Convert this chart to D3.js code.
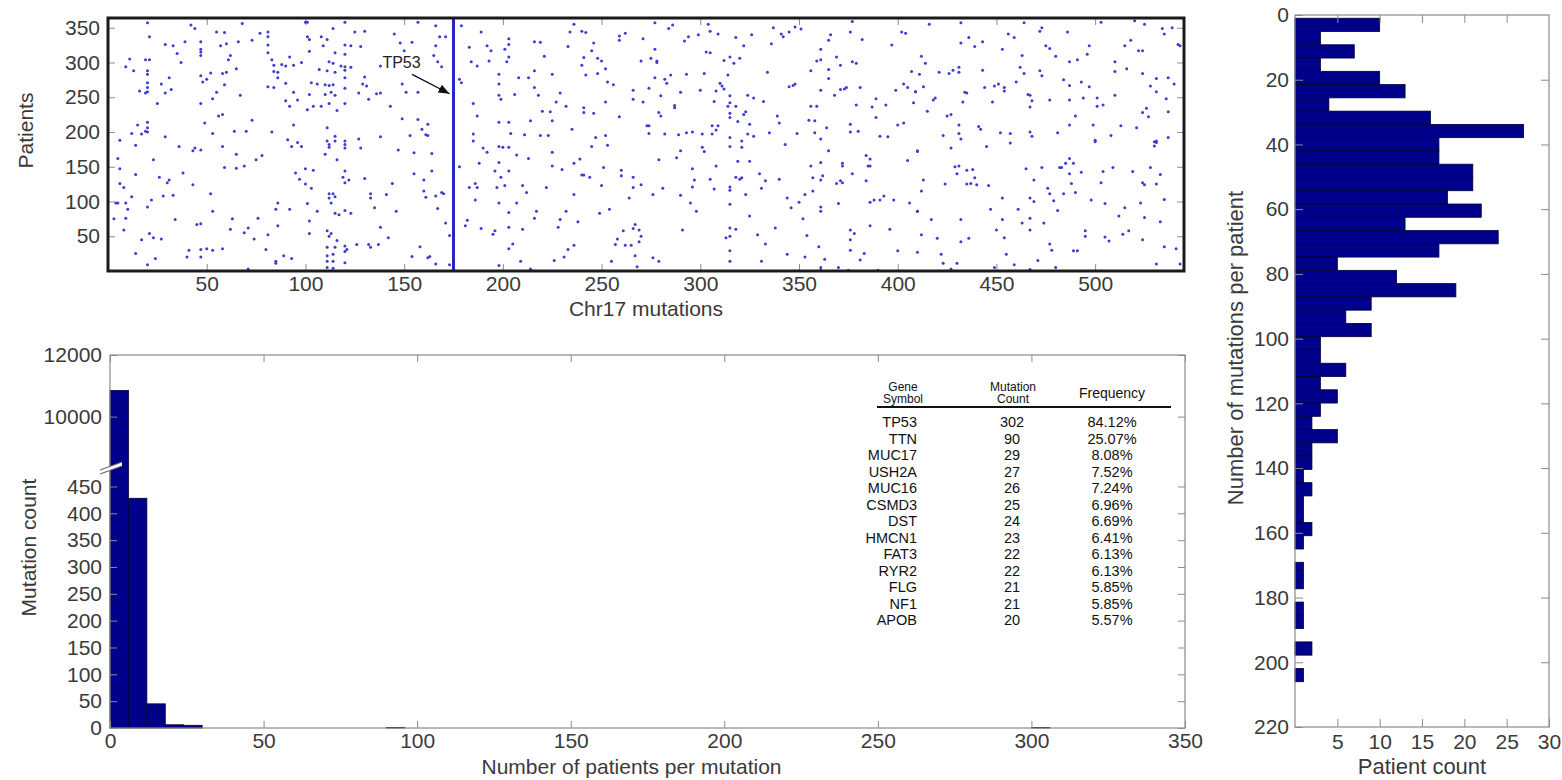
<!DOCTYPE html>
<html><head><meta charset="utf-8">
<script src="https://cdn.jsdelivr.net/npm/d3@7"></script>
<style>
body{margin:0;background:#fff;}
svg{display:block;}
</style></head><body>
<svg id="chart" width="1562" height="780"></svg>
<script>
// ---------------- DATA ----------------
// Top panel: [Chr17 mutation index, patient index]
const mutationDots = [
[20,357],[42,354],[44,349],[68,356],[100,358],[101,358],[120,358],[55,344],[59,343],[77,342],[81,344],[125,344],[130,345],[114,349],[21,337],[81,337],[101,337],[102,333],[108,337],[111,333],[29,326],[33,324],[39,330],[47,330],[57,324],[60,327],[66,330],[73,332],[81,325],[109,324],[120,325],[123,324],[128,323],[47,319],[47,315],[47,310],[35,313],[62,310],[81,314],[102,316],[115,314],[120,312],[11,305],[19,304],[21,304],[61,304],[83,304],[92,308],[98,300],[112,301],[114,299],[118,295],[120,294],[9,294],[37,300],[84,296],[88,297],[90,295],[94,296],[107,290],[111,288],[115,286],[120,289],[123,293],[13,288],[20,288],[20,283],[52,285],[58,284],[60,286],[65,291],[84,287],[86,286],[31,278],[47,281],[50,276],[48,272],[86,278],[120,278],[130,279],[27,269],[20,271],[20,264],[20,258],[16,259],[19,256],[29,256],[32,261],[59,268],[81,265],[84,264],[90,270],[103,271],[106,269],[110,268],[112,267],[114,268],[120,263],[129,269],[131,266],[55,257],[53,248],[67,253],[94,257],[96,246],[102,254],[110,254],[113,257],[115,253],[127,256],[132,247],[25,241],[47,241],[90,245],[92,237],[101,232],[104,237],[108,237],[112,241],[116,231],[120,241],[56,223],[58,225],[49,213],[73,217],[94,210],[15,210],[20,214],[20,206],[19,201],[20,200],[12,198],[17,197],[29,193],[53,198],[64,201],[70,201],[83,200],[111,206],[115,194],[6,188],[14,181],[91,189],[96,185],[111,187],[115,187],[120,187],[120,182],[127,190],
[36,179],[43,173],[44,177],[47,174],[58,179],[93,179],[98,179],[112,182],[112,178],[120,177],[128,177],[5,162],[23,160],[65,168],[78,166],[75,160],[110,168],[116,160],[6,147],[59,149],[65,148],[69,151],[100,147],[104,145],[95,141],[120,144],[14,139],[26,135],[38,141],[97,132],[100,125],[119,135],[122,131],[120,127],[130,133],[6,126],[8,120],[30,127],[31,131],[43,124],[103,119],[12,107],[28,108],[33,109],[22,102],[52,111],[112,111],[114,111],[112,105],[115,107],[113,98],[133,111],[133,105],[4,98],[5,98],[9,98],[20,92],[10,89],[86,98],[85,89],[92,89],[101,97],[106,86],[115,83],[117,81],[120,87],[123,83],[135,91],[3,75],[9,76],[34,74],[45,67],[47,68],[53,86],[63,75],[76,76],[102,72],[62,60],[71,62],[86,65],[69,55],[8,59],[21,54],[23,48],[27,46],[17,45],[74,46],[81,52],[102,54],[111,58],[113,54],[112,50],[116,44],[120,36],[121,31],[120,28],[126,38],[132,38],[133,34],[111,34],[115,34],[41,30],[47,31],[50,32],[53,30],[58,32],[80,31],[14,25],[40,20],[47,20],[24,18],[20,9],[85,14],[85,11],[89,22],[93,18],[111,22],[114,24],[111,14],[114,14],[111,5],[114,4],[120,12],[71,3],
[157,358],[166,353],[179,353],[145,341],[168,337],[171,337],[189,344],[148,328],[154,329],[166,324],[203,334],[203,326],[216,330],[219,329],[233,323],[234,344],[240,345],[242,343],[236,355],[246,328],[259,338],[259,332],[262,342],[271,334],[183,322],[192,324],[194,317],[201,319],[150,317],[165,310],[167,301],[169,294],[221,309],[203,308],[202,301],[184,301],[187,295],[193,302],[241,307],[240,296],[248,306],[250,302],[252,291],[245,317],[270,302],[138,295],[198,283],[208,278],[213,278],[216,288],[225,283],[242,282],[248,284],[253,272],[256,268],[178,276],[179,271],[149,269],[151,257],[157,257],[138,256],[136,255],[198,269],[216,264],[206,254],[198,253],[199,247],[218,253],[227,243],[229,256],[232,237],[241,235],[241,228],[246,227],[252,243],[266,260],[266,247],[271,243],[143,237],[185,241],[187,223],[220,230],[224,229],[259,222],[149,219],[157,218],[162,211],[159,204],[161,196],[162,195],[198,214],[203,214],[214,216],[225,216],[235,204],[274,209],[138,193],[153,195],[185,197],[185,187],[204,198],[211,196],[219,195],[223,195],[247,192],[252,195],[253,181],
[190,177],[192,171],[198,179],[200,178],[203,178],[207,167],[213,162],[225,171],[245,179],[147,174],[155,170],[164,169],[178,150],[188,155],[198,156],[196,144],[203,144],[225,151],[230,146],[236,155],[239,161],[240,138],[241,138],[244,135],[251,149],[260,145],[260,137],[266,135],[155,140],[164,144],[199,135],[160,131],[144,126],[186,126],[187,120],[183,120],[197,120],[201,123],[210,123],[222,120],[250,123],[270,124],[266,120],[141,110],[160,115],[161,106],[166,108],[169,113],[170,111],[212,113],[236,110],[264,105],[186,102],[198,98],[207,98],[167,90],[146,86],[203,84],[217,86],[216,76],[232,86],[249,83],[254,89],[182,73],[181,65],[189,61],[171,69],[195,53],[196,58],[203,63],[210,60],[228,63],[229,74],[238,71],[261,58],[266,61],[267,67],[269,59],[270,50],[269,42],[138,63],[142,48],[137,38],[173,51],[205,39],[203,32],[233,31],[236,37],[258,46],[257,38],[262,37],[265,37],[158,35],[154,21],[162,19],[163,21],[166,10],[173,9],[198,8],[209,14],[214,3],[226,15],[231,20],[255,14],[267,22],[268,6],
[277,357],[284,349],[286,354],[304,355],[305,345],[309,341],[299,340],[294,337],[292,331],[318,336],[326,340],[322,324],[337,350],[336,327],[341,341],[342,337],[345,344],[348,351],[351,348],[366,340],[365,332],[376,344],[377,359],[382,333],[397,325],[402,344],[404,342],[277,319],[361,319],[303,315],[305,314],[275,306],[278,302],[278,300],[312,303],[315,308],[317,299],[320,306],[359,302],[361,304],[369,308],[371,296],[377,301],[379,299],[334,286],[302,284],[293,283],[285,282],[356,288],[365,290],[365,277],[407,287],[277,278],[282,276],[283,270],[314,282],[274,263],[280,252],[290,257],[300,260],[308,259],[310,270],[311,266],[312,262],[345,265],[347,267],[348,269],[361,260],[371,261],[373,262],[374,264],[381,264],[368,253],[399,260],[403,269],[405,264],[409,258],[287,238],[287,235],[307,244],[315,252],[315,242],[314,237],[318,237],[324,253],[327,249],[332,244],[356,237],[359,237],[379,239],[387,236],[389,248],[394,239],[408,242],[279,228],[280,223],[315,227],[315,221],[323,229],[322,225],[319,215],[325,211],[306,209],[309,209],[308,203],[306,197],[339,223],[340,213],[355,217],[358,216],[364,206],[376,211],[376,200],[380,201],[389,221],[400,210],[403,213],[273,209],[274,198],[282,197],[289,196],[293,199],[296,200],[301,197],[315,192],[321,187],[324,197],[327,194],[335,199],[349,198],[358,199],[361,190],[391,194],[395,193],[343,182],
[301,178],[302,172],[315,179],[321,178],[365,173],[384,166],[386,161],[385,151],[386,151],[372,155],[372,151],[405,159],[410,173],[279,160],[288,163],[290,173],[308,151],[319,158],[325,158],[296,147],[356,151],[361,156],[297,131],[296,121],[305,132],[307,118],[315,121],[315,116],[318,135],[321,134],[320,132],[330,140],[333,130],[331,119],[340,132],[357,134],[361,131],[362,137],[369,126],[371,130],[372,127],[377,140],[384,130],[281,119],[276,110],[290,109],[323,110],[357,115],[295,98],[298,86],[315,96],[344,105],[346,91],[350,99],[353,110],[361,92],[361,86],[370,97],[386,99],[388,102],[391,102],[393,108],[398,102],[406,98],[410,86],[325,79],[352,75],[291,59],[315,62],[318,60],[313,48],[315,50],[329,52],[333,39],[338,62],[354,51],[376,59],[378,54],[376,45],[376,30],[386,65],[396,60],[360,35],[353,20],[344,24],[315,29],[315,14],[331,14],[276,19],[279,14],[363,17],[381,16],[383,25],[400,29],[361,5],[361,1],[370,5],[375,1],[390,1],
[416,355],[432,357],[464,357],[472,345],[473,350],[486,344],[503,358],[520,360],[525,355],[534,349],[539,350],[535,341],[456,341],[459,336],[436,336],[432,328],[439,323],[443,330],[453,319],[475,324],[477,320],[480,309],[463,310],[497,324],[496,312],[515,324],[518,332],[522,317],[524,317],[542,326],[543,324],[412,309],[414,299],[411,283],[421,286],[426,284],[428,289],[431,293],[431,286],[443,289],[462,293],[464,284],[472,288],[473,281],[487,301],[491,304],[510,301],[510,287],[516,291],[524,284],[531,277],[537,278],[413,265],[409,258],[434,257],[435,256],[444,264],[449,266],[451,269],[454,264],[454,259],[460,272],[467,253],[466,254],[468,245],[467,236],[484,275],[487,267],[493,272],[497,265],[477,246],[487,246],[494,249],[501,249],[501,237],[504,239],[510,253],[528,266],[531,258],[536,248],[540,269],[419,249],[418,246],[433,243],[448,243],[415,230],[425,223],[427,225],[490,223],[524,228],[526,234],[527,222],[537,229],[423,195],[431,210],[431,198],[432,190],[441,208],[442,204],[452,199],[457,198],[457,184],[467,200],[468,194],[481,199],[487,210],[499,210],[500,188],[508,195],[513,209],[521,206],[531,187],[530,186],[537,192],
[410,172],[427,177],[445,179],[500,186],[530,180],[531,185],[429,150],[431,151],[430,140],[435,145],[438,146],[439,134],[435,125],[437,126],[440,124],[446,123],[413,131],[412,115],[424,125],[465,147],[473,149],[482,149],[483,149],[485,155],[487,162],[489,155],[487,140],[493,142],[504,143],[509,149],[519,143],[528,149],[533,139],[469,131],[488,126],[503,127],[524,127],[525,124],[531,125],[476,119],[477,111],[479,101],[484,111],[490,113],[453,105],[467,105],[469,100],[498,102],[505,97],[515,91],[523,98],[535,103],[410,86],[447,89],[461,89],[481,87],[512,79],[525,77],[533,71],[417,74],[432,74],[453,74],[463,69],[467,76],[474,69],[450,59],[467,59],[495,58],[495,50],[505,49],[507,43],[514,53],[517,58],[524,45],[412,52],[420,47],[432,42],[436,47],[454,48],[477,39],[478,30],[489,29],[491,29],[535,35],[541,32],[410,27],[422,24],[455,24],[423,11],[430,11],[427,3],[449,5],[459,9],[467,2],[471,15],[480,5],[531,10],[543,10]
];
const tp53Index = 175;
const tp53LabelAt = [139, 298];
const tp53ArrowFrom = [154, 283];
const tp53ArrowTo = [173, 255];
const topXDomain = [0, 545];
const topYDomain = [0, 364];
const topXTicks = [50,100,150,200,250,300,350,400,450,500];
const topYTicks = [50,100,150,200,250,300,350];

// Bottom panel histogram: bins of width 6 patients
const patientsPerMutationBinStart = [0, 6, 12, 18, 24, 90, 300];
const patientsPerMutationBinWidth = 6;
const mutationCounts = [10850, 428, 45, 6, 5, 1, 1];
const bottomXTicks = [0,50,100,150,200,250,300,350];
const bottomYTicksLow = [0,50,100,150,200,250,300,350,400,450];
const bottomYTicksHigh = [10000, 12000];
const bottomYBreak = [490, 8430];

// Table
const geneSymbols = ["TP53","TTN","MUC17","USH2A","MUC16","CSMD3","DST","HMCN1","FAT3","RYR2","FLG","NF1","APOB"];
const geneMutationCounts = [302,90,29,27,26,25,24,23,22,22,21,21,20];
const geneFrequencies = ["84.12%","25.07%","8.08%","7.52%","7.24%","6.96%","6.69%","6.41%","6.13%","6.13%","5.85%","5.85%","5.57%"];

// Right panel: mutations per patient histogram (bin lower edges, width 4.1)
const mutationsPerPatientBinStart = [1,5.1,9.2,13.3,17.4,21.5,25.6,29.7,33.8,37.9,42,46.1,50.2,54.3,58.4,62.5,66.6,70.7,74.8,78.9,83,87.1,91.2,95.3,99.4,103.5,107.6,111.7,115.8,119.9,124,128.1,132.2,136.3,140.4,144.5,148.6,152.7,156.8,160.9,165,169.1,173.2,177.3,181.4,185.5,189.6,193.7,197.8,201.9];
const mutationsPerPatientBinWidth = 4.1;
const patientCounts = [10,3,7,3,10,13,4,16,27,17,17,21,21,18,22,13,24,17,5,12,19,9,6,9,3,3,6,3,5,3,2,5,2,2,1,2,1,1,2,1,0,1,1,0,1,1,0,2,0,1];
const rightXTicks = [5,10,15,20,25,30];
const rightYTicks = [0,20,40,60,80,100,120,140,160,180,200,220];

// ---------------- DRAW ----------------
const font = '"Liberation Sans", Arial, Helvetica, sans-serif';
const textColor = '#3a3a3a';
const tickColor = '#8c8c8c';
const navy = '#00008b';
const tickFont = 21, titleFont = 21;
const svg = d3.select('#chart').attr('font-family', font);

function styleAxis(g, size) {
  g.attr('font-family', font).attr('font-size', size);
  g.select('.domain').remove();
  g.selectAll('.tick line').attr('stroke', tickColor);
  g.selectAll('.tick text').attr('fill', textColor);
}

// ===== Top panel =====
const T = {l:108, r:1184, t:18, b:271};
const xTop = d3.scaleLinear().domain(topXDomain).range([T.l, T.r]);
const yTop = d3.scaleLinear().domain(topYDomain).range([T.b, T.t]);
const gTop = svg.append('g');

gTop.append('g').attr('transform', `translate(0,${T.b})`)
  .call(d3.axisBottom(xTop).tickValues(topXTicks).tickSizeInner(-7).tickSizeOuter(0).tickPadding(5))
  .call(g => styleAxis(g, tickFont));
gTop.append('g').attr('transform', `translate(0,${T.t})`)
  .call(d3.axisTop(xTop).tickValues(topXTicks).tickSizeInner(-7).tickSizeOuter(0).tickFormat(''))
  .call(g => styleAxis(g, tickFont));
gTop.append('g').attr('transform', `translate(${T.l},0)`)
  .call(d3.axisLeft(yTop).tickValues(topYTicks).tickSizeInner(-7).tickSizeOuter(0).tickPadding(8))
  .call(g => styleAxis(g, tickFont));
gTop.append('g').attr('transform', `translate(${T.r},0)`)
  .call(d3.axisRight(yTop).tickValues(topYTicks).tickSizeInner(-7).tickSizeOuter(0).tickFormat(''))
  .call(g => styleAxis(g, tickFont));

gTop.append('g').selectAll('circle').data(mutationDots).join('circle')
  .attr('cx', d => xTop(d[0])).attr('cy', d => yTop(d[1]))
  .attr('r', 1.5).attr('fill', '#3c3cd2');

gTop.append('line')
  .attr('x1', xTop(tp53Index)).attr('x2', xTop(tp53Index))
  .attr('y1', yTop(topYDomain[0])).attr('y2', yTop(topYDomain[1]))
  .attr('stroke', '#2626c8').attr('stroke-width', 3);

// annotation
svg.append('defs').append('marker').attr('id','arrowHead')
  .attr('viewBox','0 0 10 10').attr('refX',10).attr('refY',5)
  .attr('markerWidth',11).attr('markerHeight',11).attr('markerUnits','userSpaceOnUse')
  .attr('orient','auto')
  .append('path').attr('d','M0,1 L10,5 L0,9 Z').attr('fill','#111');
gTop.append('text').attr('x', xTop(tp53LabelAt[0])).attr('y', yTop(tp53LabelAt[1]))
  .attr('dominant-baseline','middle').attr('font-size', 16).attr('fill','#222').text('TP53');
gTop.append('line')
  .attr('x1', xTop(tp53ArrowFrom[0])).attr('y1', yTop(tp53ArrowFrom[1]))
  .attr('x2', xTop(tp53ArrowTo[0])).attr('y2', yTop(tp53ArrowTo[1]))
  .attr('stroke','#111').attr('stroke-width',1.3).attr('marker-end','url(#arrowHead)');

gTop.append('rect').attr('x', T.l).attr('y', T.t).attr('width', T.r - T.l).attr('height', T.b - T.t)
  .attr('fill','none').attr('stroke','#1a1a1a').attr('stroke-width',3);

gTop.append('text').attr('transform', `translate(33,${(T.t+T.b)/2 - 14}) rotate(-90)`)
  .attr('text-anchor','middle').attr('font-size',titleFont).attr('fill',textColor).text('Patients');
gTop.append('text').attr('x', (T.l+T.r)/2).attr('y', 316)
  .attr('text-anchor','middle').attr('font-size',titleFont).attr('fill',textColor).text('Chr17 mutations');

// ===== Bottom panel =====
const B = {l:110, r:1185, t:355, b:728};
const xBot = d3.scaleLinear().domain([0, 350]).range([B.l, B.r]);
const breakY = 465;
const yBot = d3.scaleLinear()
  .domain([0, bottomYBreak[0], bottomYBreak[1], 12000])
  .range([B.b, breakY, breakY, B.t]);
const gBot = svg.append('g');

gBot.append('g').selectAll('rect').data(patientsPerMutationBinStart).join('rect')
  .attr('x', d => xBot(d))
  .attr('width', d => xBot(d + patientsPerMutationBinWidth) - xBot(d))
  .attr('y', (d,i) => yBot(mutationCounts[i]))
  .attr('height', (d,i) => yBot(0) - yBot(mutationCounts[i]))
  .attr('fill', navy).attr('stroke','#000033').attr('stroke-width',0.8);

gBot.append('rect').attr('x', B.l).attr('y', B.t).attr('width', B.r-B.l).attr('height', B.b-B.t)
  .attr('fill','none').attr('stroke','#8a8a8a').attr('stroke-width',1.2);

gBot.append('g').attr('transform', `translate(0,${B.b})`)
  .call(d3.axisBottom(xBot).tickValues(bottomXTicks).tickSizeInner(-7).tickSizeOuter(0).tickPadding(5))
  .call(g => styleAxis(g, tickFont));
gBot.append('g').attr('transform', `translate(0,${B.t})`)
  .call(d3.axisTop(xBot).tickValues(bottomXTicks).tickSizeInner(-7).tickSizeOuter(0).tickFormat(''))
  .call(g => styleAxis(g, tickFont));
gBot.append('g').attr('transform', `translate(${B.l},0)`)
  .call(d3.axisLeft(yBot).tickValues(bottomYTicksLow.concat(bottomYTicksHigh)).tickSizeInner(-7).tickSizeOuter(0).tickPadding(8).tickFormat(d3.format('d')))
  .call(g => styleAxis(g, tickFont));
gBot.append('g').attr('transform', `translate(${B.r},0)`)
  .call(d3.axisRight(yBot).tickValues(bottomYTicksLow.concat(bottomYTicksHigh)).tickSizeInner(-7).tickSizeOuter(0).tickFormat(''))
  .call(g => styleAxis(g, tickFont));

// axis break mark
const bx = xBot(0);
gBot.append('path').attr('d', `M${bx-10},${breakY+5} L${bx+12},${breakY-3} L${bx+12},${breakY+1} L${bx-10},${breakY+9} Z`)
  .attr('fill','#fff');
gBot.append('line').attr('x1',bx-10).attr('y1',breakY+5).attr('x2',bx+12).attr('y2',breakY-3).attr('stroke','#666').attr('stroke-width',1.2);
gBot.append('line').attr('x1',bx-10).attr('y1',breakY+9).attr('x2',bx+12).attr('y2',breakY+1).attr('stroke','#666').attr('stroke-width',1.2);

gBot.append('text').attr('transform', `translate(36,${(B.t+B.b)/2 + 6}) rotate(-90)`)
  .attr('text-anchor','middle').attr('font-size',titleFont).attr('fill',textColor).text('Mutation count');
gBot.append('text').attr('x', (B.l+B.r)/2 - 16).attr('y', 774)
  .attr('text-anchor','middle').attr('font-size',titleFont).attr('fill',textColor).text('Number of patients per mutation');

// table
const tab = gBot.append('g').attr('font-size', 14.5).attr('fill', '#111');
const colGene = 917, colCount = 1012, colFreq = 1112;
const hdr = tab.append('g').attr('font-size', 12);
hdr.append('text').attr('x', colGene - 14).attr('y', 391).attr('text-anchor','middle').text('Gene');
hdr.append('text').attr('x', colGene - 14).attr('y', 403).attr('text-anchor','middle').text('Symbol');
hdr.append('text').attr('x', colCount + 1).attr('y', 391).attr('text-anchor','middle').text('Mutation');
hdr.append('text').attr('x', colCount + 1).attr('y', 403).attr('text-anchor','middle').text('Count');
tab.append('text').attr('x', colFreq).attr('y', 398).attr('text-anchor','middle').attr('font-size', 14).text('Frequency');
tab.append('line').attr('x1', 877).attr('x2', 1171).attr('y1', 407).attr('y2', 407).attr('stroke','#111').attr('stroke-width',2);
const rowY = i => 427 + i * 16.5;
tab.selectAll('text.g').data(geneSymbols).join('text').attr('class','g')
  .attr('x', colGene).attr('y', (d,i) => rowY(i)).attr('text-anchor','end').text(d => d);
tab.selectAll('text.c').data(geneMutationCounts).join('text').attr('class','c')
  .attr('x', colCount).attr('y', (d,i) => rowY(i)).attr('text-anchor','middle').text(d => d);
tab.selectAll('text.f').data(geneFrequencies).join('text').attr('class','f')
  .attr('x', colFreq).attr('y', (d,i) => rowY(i)).attr('text-anchor','middle').text(d => d);

// ===== Right panel =====
const R = {l:1295, r:1549, t:15, b:727};
const xR = d3.scaleLinear().domain([0, 30]).range([R.l, R.r]);
const yR = d3.scaleLinear().domain([0, 220]).range([R.t, R.b]);
const gR = svg.append('g');

gR.append('g').selectAll('rect').data(mutationsPerPatientBinStart.filter((d,i) => patientCounts[i] > 0)).join('rect')
  .attr('x', xR(0))
  .attr('y', d => yR(d))
  .attr('height', d => yR(d + mutationsPerPatientBinWidth) - yR(d))
  .attr('width', d => xR(patientCounts[mutationsPerPatientBinStart.indexOf(d)]) - xR(0))
  .attr('fill', navy).attr('stroke','#000033').attr('stroke-width',0.8);

gR.append('rect').attr('x', R.l).attr('y', R.t).attr('width', R.r-R.l).attr('height', R.b-R.t)
  .attr('fill','none').attr('stroke','#8a8a8a').attr('stroke-width',1.2);

gR.append('g').attr('transform', `translate(0,${R.b})`)
  .call(d3.axisBottom(xR).tickValues(rightXTicks).tickSizeInner(-8).tickSizeOuter(0).tickPadding(7))
  .call(g => styleAxis(g, tickFont));
gR.append('g').attr('transform', `translate(0,${R.t})`)
  .call(d3.axisTop(xR).tickValues(rightXTicks.slice(0,5)).tickSizeInner(-8).tickSizeOuter(0).tickFormat(''))
  .call(g => styleAxis(g, tickFont));
gR.append('g').attr('transform', `translate(${R.l},0)`)
  .call(d3.axisLeft(yR).tickValues(rightYTicks).tickSizeInner(-8).tickSizeOuter(0).tickPadding(6))
  .call(g => styleAxis(g, tickFont));
gR.append('g').attr('transform', `translate(${R.r},0)`)
  .call(d3.axisRight(yR).tickValues(rightYTicks.slice(1,11)).tickSizeInner(-8).tickSizeOuter(0).tickFormat(''))
  .call(g => styleAxis(g, tickFont));

gR.append('text').attr('transform', `translate(1243,348) rotate(-90)`)
  .attr('text-anchor','middle').attr('font-size',titleFont + 1).attr('fill',textColor).text('Number of mutations per patient');
gR.append('text').attr('x', (R.l+R.r)/2).attr('y', 774)
  .attr('text-anchor','middle').attr('font-size',titleFont + 1).attr('fill',textColor).text('Patient count');
</script>
</body></html>
